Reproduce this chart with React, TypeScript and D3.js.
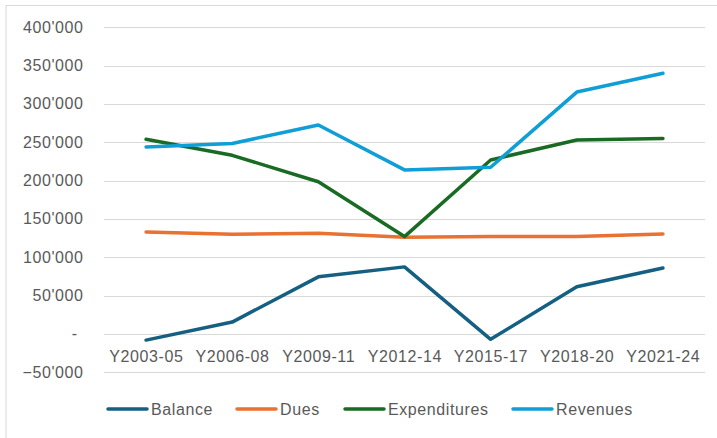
import React, { useEffect, useRef } from "react";
import * as d3 from "d3";

const periods = ["Y2003-05", "Y2006-08", "Y2009-11", "Y2012-14", "Y2015-17", "Y2018-20", "Y2021-24"];
const balance = [-8000, 15500, 74500, 87500, -7000, 61500, 86000];
const dues = [133000, 130000, 131500, 126000, 127000, 127000, 130500];
const expenditures = [254000, 233000, 198500, 127000, 227000, 253000, 255000];
const revenues = [244000, 248500, 272500, 214000, 217500, 315500, 340000];
const yTicks = [-50000, 0, 50000, 100000, 150000, 200000, 250000, 300000, 350000, 400000];

const seriesNames = ["Balance", "Dues", "Expenditures", "Revenues"];
const seriesValues = [balance, dues, expenditures, revenues];
const seriesColors = ["#156082", "#E97132", "#196B24", "#0F9ED5"];

const fmt = (v: number) => (v === 0 ? "-" : d3.format(",")(v).replace(/,/g, "'"));

const App = () => {
  const svgRef = useRef<SVGSVGElement>(null);

  useEffect(() => {
    const width = 717, height = 438;
    const svg = d3.select(svgRef.current).attr("width", width).attr("height", height);
    svg.selectAll("*").remove();

    const font = "'Liberation Sans', Arial, sans-serif";
    const spacing = "0.6px";

    // chart border
    svg.append("rect")
      .attr("x", 6).attr("y", 5.5)
      .attr("width", 720).attr("height", 440)
      .attr("fill", "#fff")
      .attr("stroke", "#d9d9d9").attr("stroke-width", 1);

    const x = d3.scaleBand().domain(periods).range([103, 706]);
    const y = d3.scaleLinear().domain([-50000, 400000]).range([372.3, 27.3]);

    // gridlines
    svg.append("g")
      .selectAll("line")
      .data(yTicks)
      .enter()
      .append("line")
      .attr("x1", 104).attr("x2", 705)
      .attr("y1", d => Math.round(y(d)) + 0.5)
      .attr("y2", d => Math.round(y(d)) + 0.5)
      .attr("stroke", "#d9d9d9").attr("stroke-width", 1);

    // y labels
    svg.append("g")
      .selectAll("text")
      .data(yTicks)
      .enter()
      .append("text")
      .attr("x", d => (d === 0 ? 77.6 : 83.6))
      .attr("y", d => y(d) + 5.5)
      .attr("text-anchor", "end")
      .style("font-family", font)
      .style("font-size", "16px")
      .style("letter-spacing", spacing)
      .attr("fill", "#595959")
      .text(d => fmt(d));

    // x labels
    svg.append("g")
      .selectAll("text")
      .data(periods)
      .enter()
      .append("text")
      .attr("x", d => (x(d) as number) + x.bandwidth() / 2 + 0.3)
      .attr("y", 362)
      .attr("text-anchor", "middle")
      .style("font-family", font)
      .style("font-size", "16px")
      .style("letter-spacing", spacing)
      .attr("fill", "#595959")
      .text(d => d);

    // lines
    const line = d3.line<number>()
      .x((_, i) => (x(periods[i]) as number) + x.bandwidth() / 2)
      .y(d => y(d));

    seriesValues.forEach((vals, i) => {
      svg.append("path")
        .datum(vals)
        .attr("d", line)
        .attr("fill", "none")
        .attr("stroke", seriesColors[i])
        .attr("stroke-width", 3.5)
        .attr("stroke-linejoin", "round")
        .attr("stroke-linecap", "round");
    });

    // legend
    const legendX = [108, 237, 345, 513];
    const legend = svg.append("g");
    seriesNames.forEach((name, i) => {
      legend.append("line")
        .attr("x1", legendX[i]).attr("x2", legendX[i] + 39)
        .attr("y1", 409).attr("y2", 409)
        .attr("stroke", seriesColors[i])
        .attr("stroke-width", 3.5)
        .attr("stroke-linecap", "round");
      legend.append("text")
        .attr("x", legendX[i] + 43)
        .attr("y", 414.5)
        .style("font-family", font)
        .style("font-size", "16px")
        .style("letter-spacing", spacing)
        .attr("fill", "#595959")
        .text(name);
    });
  }, []);

  return (
    <div style={{ position: "absolute", left: 0, top: 0 }}>
      <svg ref={svgRef} style={{ display: "block" }}></svg>
    </div>
  );
};

export default App;
